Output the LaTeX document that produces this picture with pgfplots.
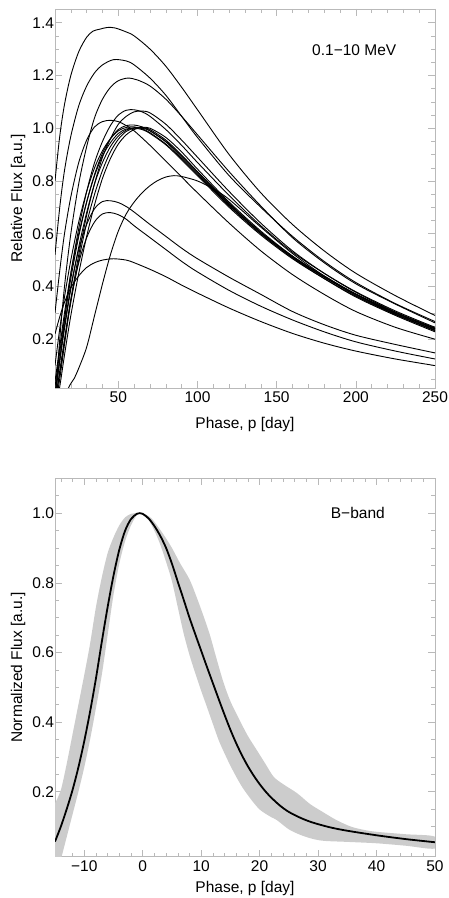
\documentclass[border=0pt]{standalone}
\usepackage{fontspec}
\setmainfont{Liberation Sans}
\usepackage{pgfplots}
\pgfplotsset{compat=1.18}
\definecolor{framegray}{RGB}{185,185,185}
\definecolor{bandgray}{RGB}{204,204,204}
\pgfplotsset{
  mystyle/.style={
    scale only axis, width=380pt,
    axis line style={framegray, line width=0.6pt},
    tick style={framegray, line width=0.5pt},
    major tick length=7pt, minor tick length=4pt,
    tick align=inside, tick pos=both,
    ticklabel style={font=\fontsize{15.5}{17}\selectfont, black},
    yticklabel style={xshift=2.5pt},
    label style={font=\fontsize{15.5}{18}\selectfont},
    /pgf/number format/assume math mode=true,
  },
  fl/.style={black, line width=0.9pt, smooth},
}
\begin{document}
\begin{tikzpicture}
\useasboundingbox (0,0) rectangle (449pt,898pt);
% ---------------- top panel ----------------
\begin{axis}[mystyle, at={(55pt,510pt)}, anchor=south west, height=379pt,
  xmin=10, xmax=250, ymin=0.015, ymax=1.452,
  xtick={50,100,150,200,250}, xticklabels={50,100,150,200,250},
  minor xtick={10,20,...,250},
  ytick={0.2,0.4,0.6,0.8,1.0,1.2,1.4}, yticklabels={0.2,0.4,0.6,0.8,1.0,1.2,1.4},
  minor ytick={0.05,0.1,...,1.45},
  xlabel={Phase, p [day]}, ylabel={Relative Flux [a.u.]},
  xlabel style={at={(axis description cs:0.5,-0.095)}, anchor=center},
  ylabel style={at={(axis description cs:-0.097,0.5)}, anchor=center},
]
% C1
\addplot[fl] coordinates {(10,0.80)(13,0.97)(16,1.09)(20,1.20)(25,1.29)(30,1.345)(34,1.368)(38,1.375)(43,1.382)(48,1.38)(55,1.365)(60,1.35)(70,1.30)(80,1.235)(90,1.155)(100,1.07)(120,0.90)(140,0.755)(160,0.635)(180,0.535)(200,0.45)(225,0.365)(250,0.29)};
% C2
\addplot[fl] coordinates {(10,0.52)(13,0.70)(16,0.84)(20,0.97)(25,1.085)(30,1.16)(35,1.21)(40,1.24)(47,1.26)(55,1.255)(60,1.24)(70,1.19)(80,1.125)(90,1.045)(100,0.965)(120,0.82)(140,0.70)(160,0.59)(180,0.495)(200,0.415)(225,0.335)(250,0.267)};
% C3
\addplot[fl] coordinates {(10,-0.05)(13,0.20)(16,0.40)(20,0.60)(25,0.79)(30,0.93)(35,1.04)(40,1.11)(45,1.155)(50,1.18)(56,1.19)(62,1.183)(70,1.16)(80,1.11)(90,1.045)(100,0.975)(120,0.835)(140,0.705)(160,0.585)(180,0.49)(200,0.41)(225,0.333)(250,0.262)};
% C4
\addplot[fl] coordinates {(10,-0.02)(13,0.12)(16,0.27)(20,0.45)(25,0.62)(30,0.76)(35,0.87)(40,0.95)(45,1.01)(50,1.05)(55,1.068)(60,1.07)(65,1.062)(70,1.045)(80,0.995)(90,0.935)(100,0.87)(120,0.745)(140,0.63)(160,0.53)(180,0.45)(200,0.38)(225,0.307)(250,0.245)};
% C5
\addplot[fl] coordinates {(10,-0.06)(13,0.05)(16,0.18)(20,0.35)(25,0.52)(30,0.67)(35,0.79)(40,0.89)(45,0.96)(50,1.015)(55,1.045)(60,1.062)(65,1.065)(70,1.058)(80,1.015)(90,0.955)(100,0.89)(120,0.76)(140,0.64)(160,0.535)(180,0.45)(200,0.378)(225,0.303)(250,0.24)};
% C6
\addplot[fl] coordinates {(10,0.30)(13,0.46)(16,0.60)(20,0.74)(25,0.87)(30,0.955)(35,1.005)(40,1.025)(45,1.03)(50,1.025)(55,1.01)(60,0.99)(70,0.935)(80,0.875)(90,0.815)(100,0.755)(120,0.64)(140,0.535)(160,0.445)(180,0.37)(200,0.305)(225,0.245)(250,0.20)};
% bundle
\addplot[fl] coordinates {(10,0.10)(13,0.24)(16,0.36)(20,0.50)(25,0.645)(30,0.76)(35,0.85)(40,0.915)(45,0.96)(50,0.99)(55,1.003)(60,1.005)(65,0.998)(70,0.983)(80,0.94)(90,0.885)(100,0.825)(120,0.705)(140,0.60)(160,0.51)(180,0.435)(200,0.37)(225,0.298)(250,0.238)};
\addplot[fl] coordinates {(10,0.04)(13,0.17)(16,0.30)(20,0.45)(25,0.60)(30,0.72)(35,0.82)(40,0.895)(45,0.945)(50,0.98)(55,0.997)(60,1.0)(65,0.995)(70,0.98)(80,0.937)(90,0.88)(100,0.82)(120,0.70)(140,0.595)(160,0.505)(180,0.43)(200,0.363)(225,0.293)(250,0.233)};
\addplot[fl] coordinates {(10,0.0)(13,0.12)(16,0.24)(20,0.39)(25,0.55)(30,0.68)(35,0.79)(40,0.87)(45,0.93)(50,0.97)(55,0.993)(60,1.002)(65,1.0)(70,0.99)(80,0.948)(90,0.89)(100,0.83)(120,0.708)(140,0.60)(160,0.508)(180,0.43)(200,0.36)(225,0.29)(250,0.228)};
\addplot[fl] coordinates {(10,-0.04)(13,0.07)(16,0.19)(20,0.34)(25,0.50)(30,0.64)(35,0.75)(40,0.84)(45,0.91)(50,0.958)(55,0.988)(60,1.0)(65,1.003)(70,0.995)(80,0.955)(90,0.898)(100,0.835)(120,0.712)(140,0.605)(160,0.515)(180,0.44)(200,0.372)(225,0.302)(250,0.242)};
\addplot[fl] coordinates {(10,-0.08)(13,0.02)(16,0.14)(20,0.29)(25,0.45)(30,0.59)(35,0.71)(40,0.81)(45,0.885)(50,0.94)(55,0.975)(60,0.995)(65,1.003)(70,1.0)(80,0.965)(90,0.91)(100,0.845)(120,0.72)(140,0.61)(160,0.515)(180,0.436)(200,0.366)(225,0.295)(250,0.235)};
\addplot[fl] coordinates {(10,0.02)(13,0.15)(16,0.28)(20,0.43)(25,0.59)(30,0.72)(35,0.825)(40,0.905)(45,0.96)(50,0.995)(55,1.01)(60,1.012)(65,1.005)(70,0.99)(80,0.95)(90,0.895)(100,0.835)(120,0.715)(140,0.605)(160,0.513)(180,0.436)(200,0.37)(225,0.30)(250,0.24)};
% C13
\addplot[fl] coordinates {(10,-0.2)(15,-0.06)(18.5,0.015)(22,0.05)(25,0.09)(30,0.17)(35,0.29)(40,0.41)(45,0.52)(50,0.61)(55,0.675)(60,0.72)(65,0.755)(70,0.782)(75,0.802)(80,0.815)(85,0.82)(90,0.817)(100,0.80)(110,0.77)(120,0.73)(140,0.625)(160,0.525)(180,0.44)(200,0.37)(225,0.295)(250,0.232)};
% C14
\addplot[fl] coordinates {(10,-0.02)(13,0.12)(16,0.25)(20,0.40)(25,0.54)(30,0.635)(35,0.695)(40,0.722)(45,0.725)(50,0.718)(55,0.703)(60,0.682)(70,0.635)(80,0.59)(90,0.545)(100,0.505)(120,0.435)(140,0.37)(160,0.305)(180,0.255)(200,0.215)(225,0.18)(250,0.148)};
% C15
\addplot[fl] coordinates {(10,-0.04)(13,0.08)(16,0.20)(20,0.35)(25,0.49)(30,0.585)(35,0.645)(40,0.675)(45,0.68)(50,0.672)(55,0.655)(60,0.63)(70,0.585)(80,0.54)(90,0.495)(100,0.455)(120,0.385)(140,0.325)(160,0.273)(180,0.228)(200,0.19)(225,0.155)(250,0.125)};
% C16
\addplot[fl] coordinates {(10,0.22)(13,0.285)(16,0.34)(20,0.395)(25,0.44)(30,0.472)(35,0.49)(40,0.50)(47,0.505)(55,0.50)(60,0.49)(70,0.465)(80,0.437)(90,0.405)(100,0.375)(120,0.318)(140,0.267)(160,0.222)(180,0.185)(200,0.155)(225,0.125)(250,0.10)};
\node[font=\fontsize{15.5}{18}\selectfont] at (axis cs:199,1.296) {0.1−10 MeV};
\end{axis}
% ---------------- bottom panel ----------------
\begin{axis}[mystyle, at={(55pt,41.3pt)}, anchor=south west, height=378.4pt,
  xmin=-15, xmax=50, ymin=0.0135, ymax=1.1,
  xtick={-10,0,10,20,30,40,50}, xticklabels={−10,0,10,20,30,40,50},
  minor xtick={-14,-12,...,50},
  ytick={0.2,0.4,0.6,0.8,1.0}, yticklabels={0.2,0.4,0.6,0.8,1.0},
  minor ytick={0.05,0.1,...,1.1},
  xlabel={Phase, p [day]}, ylabel={Normalized Flux [a.u.]},
  xlabel style={at={(axis description cs:0.5,-0.083)}, anchor=center},
  ylabel style={at={(axis description cs:-0.097,0.5)}, anchor=center},
]
\addplot[fill=bandgray, draw=none, smooth] coordinates {
(-15,0.167)(-14,0.205)(-13,0.28)(-12,0.365)(-11,0.45)(-10,0.535)(-9,0.625)(-8,0.73)(-7,0.815)(-6,0.885)(-5,0.93)(-4,0.965)(-3,0.988)(-2,0.998)(-1.3,1.0)(0,0.999)(1.5,0.985)(3.5,0.94)(5,0.90)(6.4,0.856)(8,0.81)(9.2,0.76)(10.5,0.70)(11.5,0.65)(12.5,0.59)(13.8,0.515)(15,0.46)(16.6,0.405)(18,0.36)(19.5,0.32)(21,0.28)(22.4,0.243)(24,0.222)(26.4,0.196)(28.6,0.165)(30.5,0.145)(33,0.12)(35.6,0.10)(38,0.09)(40,0.085)(45,0.078)(50,0.071)
(50,0.037)(45,0.045)(40,0.052)(35,0.056)(31,0.059)(29,0.065)(27,0.076)(25,0.092)(23,0.118)(22,0.127)(21,0.137)(20,0.149)(19,0.168)(18,0.19)(17,0.214)(16,0.243)(15,0.275)(14,0.31)(13,0.348)(12,0.395)(11,0.443)(10,0.49)(9,0.54)(8,0.593)(7,0.655)(6,0.73)(5,0.805)(4,0.86)(3,0.91)(2,0.95)(1,0.98)(0,0.995)(-0.5,1.0)(-1,0.995)(-2,0.965)(-3,0.92)(-4,0.855)(-5,0.765)(-6,0.65)(-7,0.535)(-8,0.44)(-9,0.35)(-10,0.27)(-11,0.20)(-12,0.135)(-13,0.07)(-14,0.005)(-15,-0.06)
} -- cycle;
\addplot[black, line width=1.8pt, smooth] coordinates {
(-15,0.057)(-14,0.10)(-13,0.15)(-12,0.205)(-11,0.27)(-10,0.345)(-9,0.43)(-8,0.525)(-7,0.63)(-6,0.73)(-5,0.82)(-4,0.895)(-3,0.95)(-2,0.983)(-1,0.998)(-0.5,1.0)(0,0.998)(1,0.985)(2,0.963)(3,0.935)(4,0.90)(5,0.855)(6,0.803)(7,0.752)(8,0.70)(9,0.652)(10,0.605)(11,0.558)(12,0.512)(13,0.466)(14,0.421)(15,0.378)(16,0.339)(17,0.304)(18,0.273)(19,0.246)(20,0.222)(21,0.201)(22,0.183)(23.5,0.16)(25,0.142)(27,0.125)(29,0.112)(32,0.098)(35,0.088)(40,0.075)(45,0.064)(50,0.055)};
\node[font=\fontsize{15.5}{18}\selectfont] at (axis cs:36.8,1.0) {B−band};
\end{axis}
\end{tikzpicture}
\end{document}
